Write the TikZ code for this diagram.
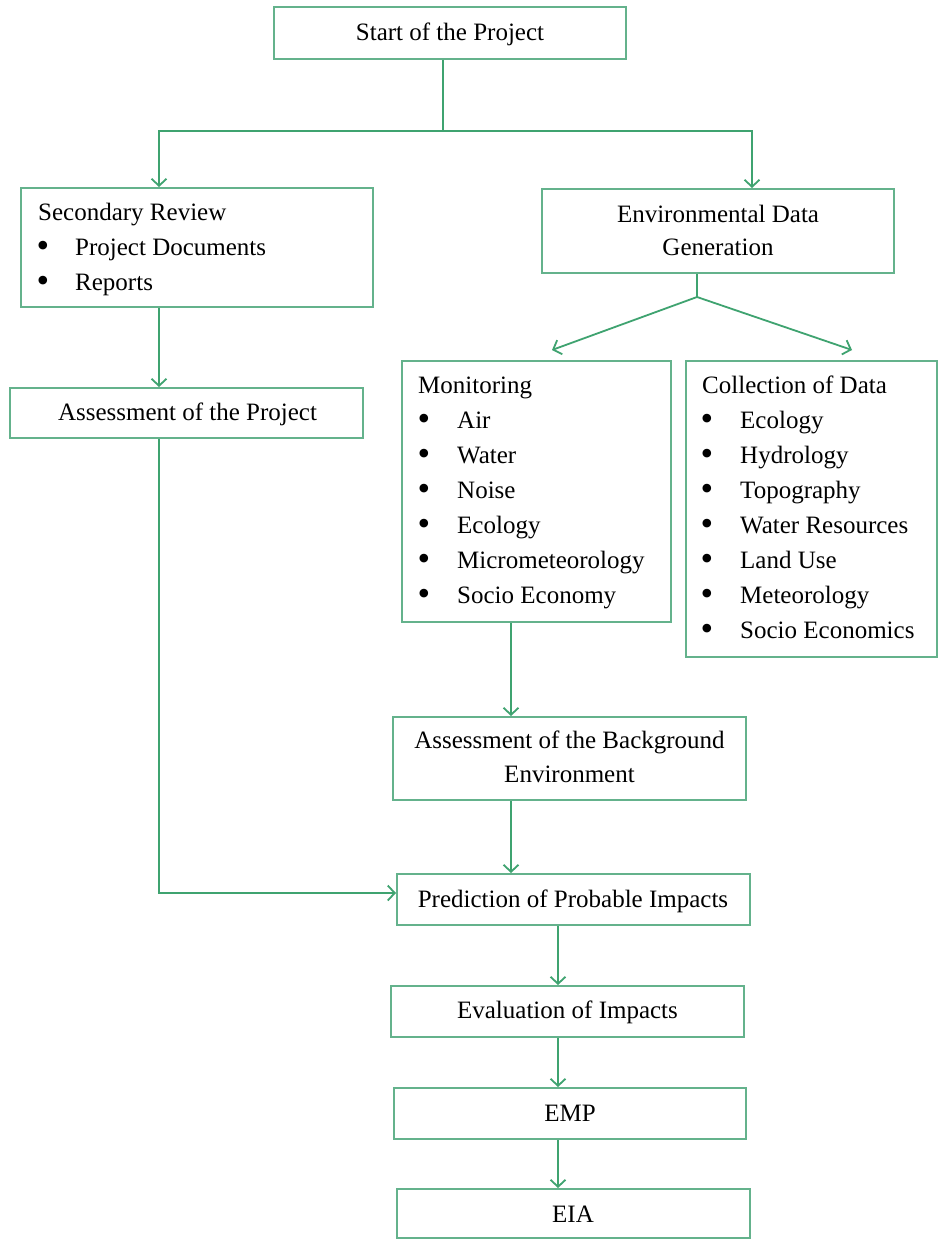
\documentclass[tikz,border=0pt]{standalone}
\usepackage{fontspec}
\setmainfont{Liberation Serif}
\usetikzlibrary{arrows.meta}
\definecolor{linec}{RGB}{63,163,112}
\definecolor{boxc}{RGB}{100,178,140}
\begin{document}
\begin{tikzpicture}[x=1pt,y=-1pt,
  box/.style={draw=boxc, line width=2pt, fill=white, inner sep=0pt, rectangle},
  txt/.style={font=\fontsize{25}{35}\selectfont, inner sep=0pt, text=black},
  bul/.style={font=\fontsize{36}{36}\selectfont, inner sep=0pt, text=black, anchor=base},
  ln/.style={draw=linec, line width=1.8pt},
  arr/.style={ln, -{Straight Barb[length=7pt,width=15pt,line width=1.8pt]}}]
\fill[white] (0,0) rectangle (939,1239);
\useasboundingbox (0,0) rectangle (939,1239);

% boxes
\node[box, minimum width=352pt, minimum height=52pt]  (start) at (450,33) {};
\node[box, minimum width=352pt, minimum height=119pt] (sec)   at (197,247.5) {};
\node[box, minimum width=352pt, minimum height=84pt]  (env)   at (718,231) {};
\node[box, minimum width=353pt, minimum height=50pt]  (asp)   at (186.5,413) {};
\node[box, minimum width=269pt, minimum height=261pt] (mon)   at (536.5,491.5) {};
\node[box, minimum width=251pt, minimum height=296pt] (col)   at (811.5,509) {};
\node[box, minimum width=353pt, minimum height=83pt]  (bg)    at (569.5,758.5) {};
\node[box, minimum width=353pt, minimum height=51pt]  (pred)  at (573.5,899.5) {};
\node[box, minimum width=353pt, minimum height=51pt]  (eval)  at (567.5,1011.5) {};
\node[box, minimum width=352pt, minimum height=51pt]  (emp)   at (570,1113.5) {};
\node[box, minimum width=353pt, minimum height=49pt]  (eia)   at (573.5,1213.5) {};

% texts
\node[txt, anchor=base] (start-t) at (450,41) {Start of the Project};

\node[txt, anchor=base west] (sec-t) at (38,220) {Secondary Review};
\node[bul] (sec-b1) at (43,257.5) {\textbullet};
\node[txt, anchor=base west] (sec-1) at (75,255) {Project Documents};
\node[bul] (sec-b2) at (43,292.5) {\textbullet};
\node[txt, anchor=base west] (sec-2) at (75,290) {Reports};

\node[txt, anchor=base] (env-t1) at (718,222) {Environmental Data};
\node[txt, anchor=base] (env-t2) at (718,255) {Generation};

\node[txt, anchor=base] (asp-t) at (187.5,420) {Assessment of the Project};

\node[txt, anchor=base west] (mon-t) at (418,393) {Monitoring};
\foreach \i/\t in {0/Air,1/Water,2/Noise,3/Ecology,4/Micrometeorology,5/Socio Economy}{
  \node[bul] (mon-b\i) at (424,430.5+35*\i) {\textbullet};
  \node[txt, anchor=base west] (mon-\i) at (457,428+35*\i) {\t};
}

\node[txt, anchor=base west] (col-t) at (702,393) {Collection of Data};
\foreach \i/\t in {0/Ecology,1/Hydrology,2/Topography,3/Water Resources,4/Land Use,5/Meteorology,6/Socio Economics}{
  \node[bul] (col-b\i) at (707,430.5+35*\i) {\textbullet};
  \node[txt, anchor=base west] (col-\i) at (740,428+35*\i) {\t};
}

\node[txt, anchor=base] (bg-t1) at (569.5,748) {Assessment of the Background};
\node[txt, anchor=base] (bg-t2) at (569.5,782) {Environment};
\node[txt, anchor=base] (pred-t) at (573,907) {Prediction of Probable Impacts};
\node[txt, anchor=base] (eval-t) at (567.5,1018) {Evaluation of Impacts};
\node[txt, anchor=base] (emp-t) at (570,1121) {EMP};
\node[txt, anchor=base] (eia-t) at (573,1222) {EIA};

% coordinates
\coordinate (j1) at (443,131);
\coordinate (secx) at (159,0);
\coordinate (envx) at (752,0);
\coordinate (j2) at (697,297);
\coordinate (monarr) at (552,350);
\coordinate (colarr) at (852,350);
\coordinate (monx) at (511,0);
\coordinate (colx) at (558,0);

% connectors
\draw[ln] (start.south -| j1) -- (j1);
\draw[arr] (j1) -| (sec.north -| secx);
\draw[arr] (j1) -| (env.north -| envx);
\draw[ln] (env.south -| j2) -- (j2);
\draw[arr] (j2) -- (monarr);
\draw[arr] (j2) -- (colarr);
\draw[arr] (sec.south -| secx) -- (asp.north -| secx);
\draw[arr] (asp.south -| secx) |- ([yshift=6.5pt]pred.west);
\draw[arr] (mon.south -| monx) -- (bg.north -| monx);
\draw[arr] (bg.south -| monx) -- (pred.north -| monx);
\draw[arr] (pred.south -| colx) -- (eval.north -| colx);
\draw[arr] (eval.south -| colx) -- (emp.north -| colx);
\draw[arr] (emp.south -| colx) -- (eia.north -| colx);
\end{tikzpicture}
\end{document}
